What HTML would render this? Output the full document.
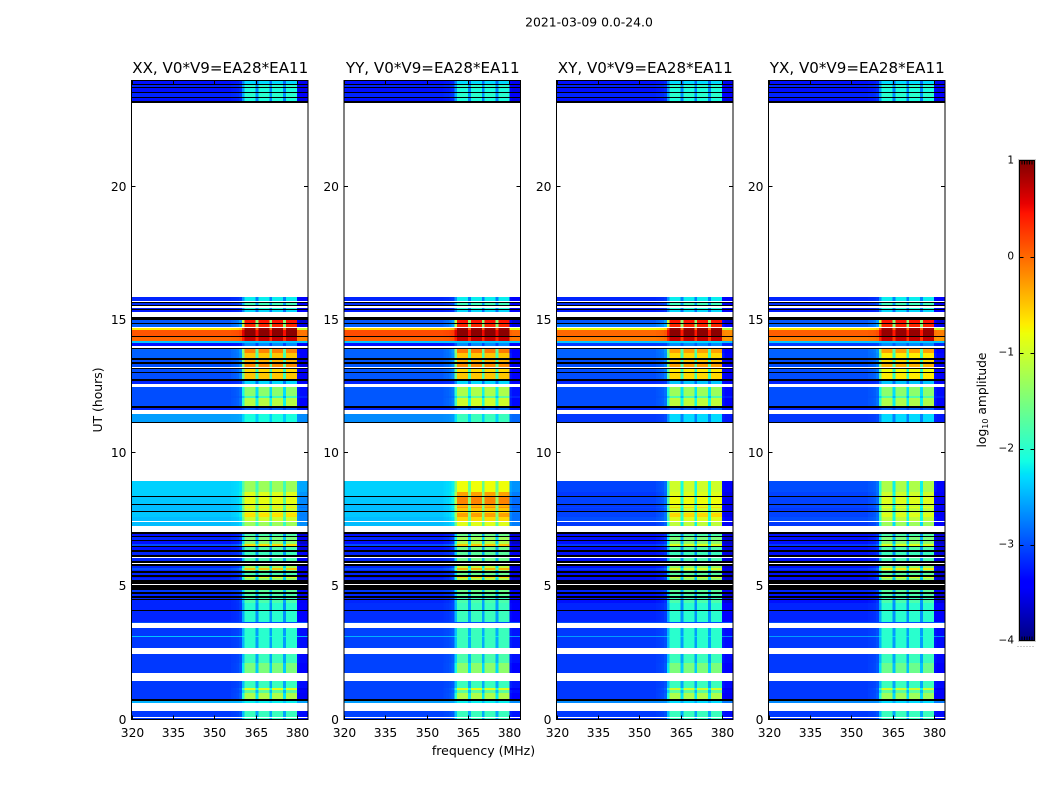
<!DOCTYPE html>
<html lang="en">
<head>
<meta charset="utf-8">
<title>2021-03-09 0.0-24.0</title>
<style>
html,body{margin:0;padding:0;background:#fff;width:1050px;height:800px;overflow:hidden}
svg{display:block;font-family:"DejaVu Sans","Liberation Sans",sans-serif;fill:#000}
</style>
</head>
<body>
<svg id="figure" width="1050" height="800" viewBox="0 0 1050 800" xmlns="http://www.w3.org/2000/svg">
  <rect x="0" y="0" width="1050" height="800" fill="#fff"/>
  <text x="589" y="26.5" font-size="12.4" text-anchor="middle">2021-03-09 0.0-24.0</text>
  <text transform="translate(102,400) rotate(-90)" font-size="12.4" text-anchor="middle">UT (hours)</text>
  <text x="483.5" y="755" font-size="12.5" text-anchor="middle">frequency (MHz)</text>
  <text transform="translate(986,400) rotate(-90)" font-size="12.3" text-anchor="middle">log<tspan font-size="8" dy="2">10</tspan><tspan dy="-2"> amplitude</tspan></text>
  <g id="panels"></g>
  <g id="colorbar"></g>
</svg>
<script>
const W = null;
const K = -9;

const panelTitles = ["XX, V0*V9=EA28*EA11", "YY, V0*V9=EA28*EA11", "XY, V0*V9=EA28*EA11", "YX, V0*V9=EA28*EA11"];
const freqTicks = [320, 335, 350, 365, 380];
const hourTicks = [0, 5, 10, 15, 20];
const colorbarTicks = [1, 0, -1, -2, -3, -4];

/* frequency channels: 1 MHz each, starting at 320 MHz */
const channelResponse = [
  0,0,0,0,0,0,0,0,0,0,
  0,0,0,0,0,0,0,0,0,0,
  0,0,0,0,0,0,0,0,0,0,
  0,0,0,0,0,0,.02,.03,.05,.1,
  .55,1,1,1,1,.45,1,1,1,1,
  .45,1,1,1,1,.45,1,1,1,1,
  -.15,-.2,-.2,-.2
];

/* upper edge (UT hours) of each time row */
const rowEdges = [
  .06,.09,.32,.62,.69,.77,1.00,1.11,1.18,1.45,
  1.75,2.12,2.46,2.69,3.08,3.12,3.44,3.61,3.65,3.68,
  4.09,4.13,4.36,4.39,4.47,4.51,4.58,4.64,4.73,4.77,
  4.86,5.05,5.09,5.24,5.31,5.35,5.43,5.50,5.58,5.62,
  5.69,5.77,5.84,5.88,5.95,6.07,6.10,6.18,6.29,6.37,
  6.48,6.52,6.59,6.70,6.74,6.85,6.89,6.97,7.04,7.27,
  7.40,7.44,7.59,7.62,7.76,7.79,7.83,7.94,7.98,8.08,
  8.11,8.38,8.41,8.53,8.56,8.96,11.15,11.19,11.47,11.62,
  11.70,11.77,12.08,12.15,12.49,12.60,12.71,12.79,13.02,13.06,
  13.16,13.20,13.24,13.37,13.41,13.50,13.58,13.77,13.92,13.95,
  14.03,14.14,14.22,14.37,14.40,14.63,14.72,14.76,14.84,14.89,
  14.99,15.12,15.31,15.38,15.42,15.47,15.52,15.57,15.64,15.68,
  15.72,15.87,23.15,23.23,23.34,23.38,23.53,23.57,23.72,23.76,
  23.83,23.87,24
];

/* log10 amplitude per row: outside the receiver band / inside it */
const xxOut = [
  -3.1,W,-3.1,W,-2.5,K,-3.1,-3.1,-3.1,-3.1,
  W,-3.1,-3.1,W,-3.1,-2.4,-3.1,W,-3,W,
  -3.2,K,-3.2,W,-3.2,K,-3.2,K,-3.2,K,
  -3.1,K,W,K,-3.2,-3.3,K,-3.2,K,-3.2,
  -3,-3.2,K,W,K,-3.2,W,K,-3.2,K,
  -3.3,K,-3,-3.3,K,-3.2,K,-3.3,K,W,
  -2.45,W,-2.45,W,-2.4,-2.4,K,-2.45,-2.45,-2.45,
  K,-2.4,K,-2.35,W,-2.35,W,K,-2.6,W,
  -3.2,K,-3,-3,-3,W,-3.2,K,-3,K,
  -3,K,W,-3,K,-3,K,-2.9,-2.9,K,
  W,-3.3,-2.4,0,K,.1,-.7,W,-2.9,K,
  -2.95,K,W,-3.25,K,-3.25,W,K,-3.15,K,
  W,-3.2,W,K,-3.3,K,-3.2,K,-3.3,K,
  -3.2,K,-3.3
];
const xxIn = [
  -1.9,W,-1.9,W,-2.2,K,-1.2,-1.7,-.9,-1.9,
  W,-1.5,-1.9,W,-2,-2,-2,W,-3,W,
  -2,K,-2,W,-1.8,K,-1.9,K,-1.8,K,
  -1.7,K,W,K,-1.4,-.9,K,-1.8,K,-1.6,
  -.5,-1.3,K,W,K,-1.8,W,K,-1.9,K,
  -1.8,K,-.6,-1.4,K,-1.5,K,-1.8,K,W,
  -1.3,W,-1,W,-.65,-.9,K,-1,-.7,-1,
  K,-.85,K,-.9,W,-1.3,W,K,-2.1,W,
  -2.9,K,-1.15,-1.9,-1.4,W,-2.3,K,-.5,K,
  -.6,K,W,-.2,K,-.4,K,-.5,-.15,K,
  W,-2.7,-2.4,.7,K,.95,.9,W,.35,K,
  .45,K,W,-2.3,K,-2.1,W,K,-1.9,K,
  W,-2.2,W,K,-2.1,K,-2,K,-2.1,K,
  -2,K,-2.3
];
const yyOut = [
  -3.1,W,-3.05,W,-2.6,K,-3.05,-3.05,-3.05,-3.05,
  W,-3.05,-3.05,W,-3.05,-2.5,-3.05,W,-3,W,
  -3.15,K,-3.15,W,-3.2,K,-3.2,K,-3.2,K,
  -3.1,K,W,K,-3.2,-3.3,K,-3.2,K,-3.2,
  -3,-3.2,K,W,K,-3.2,W,K,-3.2,K,
  -3.3,K,-3,-3.3,K,-3.2,K,-3.3,K,W,
  -2.45,W,-2.45,W,-2.4,-2.4,K,-2.45,-2.45,-2.45,
  K,-2.4,K,-2.35,W,-2.35,W,K,-2.7,W,
  -3.2,K,-2.95,-2.95,-2.95,W,-3.2,K,-2.95,K,
  -2.95,K,W,-2.95,K,-2.95,K,-2.9,-2.9,K,
  W,-3.3,-2.4,.05,K,.15,-.6,W,-2.9,K,
  -2.95,K,W,-3.25,K,-3.25,W,K,-3.15,K,
  W,-3.2,W,K,-3.3,K,-3.2,K,-3.3,K,
  -3.2,K,-3.3
];
const yyIn = [
  -1.9,W,-1.9,W,-2.2,K,-1.2,-1.7,-.9,-1.9,
  W,-1.4,-1.8,W,-1.9,-1.9,-1.9,W,-3,W,
  -1.9,K,-1.9,W,-1.8,K,-1.9,K,-1.7,K,
  -1.6,K,W,K,-1.2,-.6,K,-1.6,K,-1.4,
  -.4,-1.1,K,W,K,-1.6,W,K,-1.7,K,
  -1.6,K,-.5,-1.2,K,-1.3,K,-1.6,K,W,
  -.9,W,-.6,W,-.3,-.6,K,-.5,-.2,-.4,
  K,-.15,K,-.3,W,-.8,W,K,-1.9,W,
  -2.8,K,-1,-1.7,-1.2,W,-2.3,K,-.5,K,
  -.6,K,W,-.2,K,-.4,K,-.5,-.1,K,
  W,-2.7,-2.4,.7,K,.95,.9,W,.35,K,
  .45,K,W,-2.3,K,-2.1,W,K,-1.9,K,
  W,-2.2,W,K,-2.1,K,-2,K,-2.1,K,
  -2,K,-2.3
];
const xyOut = [
  -3.15,W,-3.1,W,-2.7,K,-3.1,-3.1,-3.1,-3.1,
  W,-3.1,-3.1,W,-3.1,-2.6,-3.1,W,-3,W,
  -3.2,K,-3.2,W,-3.3,K,-3.3,K,-3.3,K,
  -3.2,K,W,K,-3.3,-3.3,K,-3.3,K,-3.3,
  -3.1,-3.3,K,W,K,-3.3,W,K,-3.3,K,
  -3.3,K,-3.1,-3.3,K,-3.3,K,-3.3,K,W,
  -3.1,W,-3,W,-3.05,-3.05,K,-3.1,-3.05,-3.1,
  K,-3.05,K,-3.1,W,-3.05,W,K,-3.1,W,
  -3.2,K,-3,-3,-3,W,-3.2,K,-3,K,
  -3,K,W,-3,K,-3,K,-2.9,-2.9,K,
  W,-3.1,-2.4,-.1,K,0,-.8,W,-2.8,K,
  -2.95,K,W,-3.25,K,-3.25,W,K,-3.15,K,
  W,-3.2,W,K,-3.3,K,-3.2,K,-3.3,K,
  -3.2,K,-3.3
];
const xyIn = [
  -1.9,W,-1.9,W,-2.3,K,-1.2,-1.7,-1,-1.9,
  W,-1.5,-1.9,W,-2,-2,-2,W,-3,W,
  -2,K,-2,W,-1.8,K,-1.9,K,-1.8,K,
  -1.7,K,W,K,-1.4,-1,K,-1.7,K,-1.5,
  -.9,-1.4,K,W,K,-1.8,W,K,-1.9,K,
  -1.8,K,-.9,-1.4,K,-1.5,K,-1.8,K,W,
  -1.1,W,-.9,W,-.6,-1,K,-1,-.6,-.9,
  K,-.8,K,-.9,W,-1.0,W,K,-2.3,W,
  -2.9,K,-1.1,-1.8,-1.3,W,-2.4,K,-.6,K,
  -.7,K,W,-.3,K,-.5,K,-.6,-.3,K,
  W,-2.7,-2.3,.7,K,.95,.9,W,.35,K,
  .45,K,W,-2.3,K,-2.1,W,K,-1.9,K,
  W,-2.2,W,K,-2.1,K,-2,K,-2.1,K,
  -2,K,-2.3
];
const yxOut = [
  -3.15,W,-3.1,W,-2.7,K,-3.1,-3.1,-3.1,-3.1,
  W,-3.1,-3.1,W,-3.1,-2.6,-3.1,W,-3,W,
  -3.2,K,-3.2,W,-3.3,K,-3.3,K,-3.3,K,
  -3.2,K,W,K,-3.3,-3.3,K,-3.3,K,-3.3,
  -3.1,-3.3,K,W,K,-3.3,W,K,-3.3,K,
  -3.3,K,-3.1,-3.3,K,-3.3,K,-3.3,K,W,
  -3.1,W,-3,W,-3.05,-3.05,K,-3.1,-3.05,-3.05,
  K,-3.05,K,-3.05,W,-3,W,K,-3.1,W,
  -3.2,K,-3,-3,-3,W,-3.2,K,-3,K,
  -3,K,W,-3,K,-3,K,-2.9,-2.9,K,
  W,-3.1,-2.4,-.1,K,.05,-.7,W,-2.9,K,
  -2.95,K,W,-3.25,K,-3.25,W,K,-3.15,K,
  W,-3.2,W,K,-3.3,K,-3.2,K,-3.3,K,
  -3.2,K,-3.3
];
const yxIn = [
  -1.9,W,-1.9,W,-2.3,K,-1.3,-1.7,-1,-1.9,
  W,-1.6,-1.9,W,-2,-2,-2,W,-3,W,
  -2,K,-2,W,-1.8,K,-1.9,K,-1.8,K,
  -1.7,K,W,K,-1.4,-.9,K,-1.7,K,-1.5,
  -.7,-1.4,K,W,K,-1.8,W,K,-1.9,K,
  -1.8,K,-.9,-1.4,K,-1.5,K,-1.8,K,W,
  -1.3,W,-1.1,W,-.9,-1.1,K,-1.1,-.8,-1.1,
  K,-.9,K,-1,W,-1.2,W,K,-2.3,W,
  -2.9,K,-1.2,-1.8,-1.4,W,-2.4,K,-.7,K,
  -.8,K,W,-.4,K,-.6,K,-.7,-.3,K,
  W,-2.7,-2.4,.7,K,.9,.85,W,.35,K,
  .45,K,W,-2.3,K,-2.1,W,K,-1.9,K,
  W,-2.2,W,K,-2.1,K,-2,K,-2.1,K,
  -2,K,-2.3
];

const panelOut = [xxOut, yyOut, xyOut, yxOut];
const panelIn = [xxIn, yyIn, xyIn, yxIn];

const SVGNS = "http://www.w3.org/2000/svg";
const plotTop = 80.5, plotBottom = 719.5, plotWidth = 176.5;
const panelLefts = [131.5, 344, 556.5, 768.5];
const hourMax = 24, freqMin = 320, freqSpan = 64;
const barLeft = 1019.5, barRight = 1034.5, barTop = 160.5, barBottom = 640.5;
const levelMin = -4, levelMax = 1;

function yScale(hour) { return plotBottom - (hour / hourMax) * (plotBottom - plotTop); }
function xScale(mhz, left) { return left + ((mhz - freqMin) / freqSpan) * plotWidth; }
function levelY(v) { return barBottom - ((v - levelMin) / (levelMax - levelMin)) * (barBottom - barTop); }

function ramp(t, a, b) { return Math.max(0, Math.min(1, (t - a) / (b - a))); }
function jet(t) {
  const r = t < .89 ? ramp(t, .35, .66) : 1 - .5 * ramp(t, .89, 1);
  const g = t < .64 ? ramp(t, .125, .375) : 1 - ramp(t, .64, .91);
  const b = t < .34 ? .5 + .5 * ramp(t, 0, .11) : 1 - ramp(t, .34, .65);
  return "rgb(" + Math.round(r * 255) + "," + Math.round(g * 255) + "," + Math.round(b * 255) + ")";
}
function levelColor(v) {
  if (v <= K) return "#000";
  return jet(Math.max(0, Math.min(1, (v - levelMin) / (levelMax - levelMin))));
}
function make(tag, attrs, parent) {
  const el = document.createElementNS(SVGNS, tag);
  for (const k in attrs) el.setAttribute(k, attrs[k]);
  parent.appendChild(el);
  return el;
}

const panelsRoot = document.getElementById("panels");
panelTitles.forEach(function (title, p) {
  const left = panelLefts[p];
  const right = left + plotWidth;
  const g = make("g", {}, panelsRoot);
  
  

  const cells = make("g", { "shape-rendering": "crispEdges" }, g);
  
  

  rowEdges.forEach(function (top, r) {
    const bottom = r === 0 ? 0 : rowEdges[r - 1];
    const outLevel = panelOut[p][r];
    const inLevel = panelIn[p][r];
    if (outLevel === W) return;
    const y0 = Math.round(yScale(top));
    const y1 = Math.max(y0 + 1, Math.round(yScale(bottom)));
    let start = 0;
    for (let c = 1; c <= channelResponse.length; c++) {
      const isBlack = outLevel === K;
      const v0 = isBlack ? K : outLevel + (inLevel - outLevel) * channelResponse[start];
      const v1 = c < channelResponse.length ? (isBlack ? K : outLevel + (inLevel - outLevel) * channelResponse[c]) : null;
      if (v1 === v0) continue;
      const x0 = xScale(freqMin + start, left);
      const x1 = xScale(freqMin + c, left);
      const cell = make("rect", { x: x0.toFixed(2), y: y0, width: (x1 - x0).toFixed(2), height: y1 - y0, fill: levelColor(v0) }, cells);
      
      
      start = c;
    }
  });

  const frame = make("rect", { x: left, y: plotTop, width: plotWidth, height: plotBottom - plotTop, fill: "none", stroke: "#000", "stroke-width": 1 }, g);
  
  

  const titleEl = make("text", { x: left + plotWidth / 2 + .5, y: 73, "font-size": 15.1, "text-anchor": "middle" }, g);
  
  
  titleEl.textContent = title;

  freqTicks.forEach(function (f) {
    const x = Math.round(xScale(f, left)) + .5;
    const lo = make("line", { x1: x, x2: x, y1: plotBottom, y2: plotBottom - 4, stroke: "#000" }, g);
    
    
    const hi = make("line", { x1: x, x2: x, y1: plotTop, y2: plotTop + 4, stroke: "#000" }, g);
    
    
    const label = make("text", { x: x, y: 737, "font-size": 12.3, "text-anchor": "middle" }, g);
    
    
    label.textContent = f;
  });

  hourTicks.forEach(function (h) {
    const y = Math.round(yScale(h)) - .5;
    const lo = make("line", { x1: left, x2: left + 4, y1: y, y2: y, stroke: "#000" }, g);
    
    
    const hi = make("line", { x1: right, x2: right - 4, y1: y, y2: y, stroke: "#000" }, g);
    
    
    const label = make("text", { x: left - 5, y: y + 4.5, "font-size": 12.3, "text-anchor": "end" }, g);
    
    
    label.textContent = h;
  });
});

const barRoot = document.getElementById("colorbar");
const halo = make("rect", { x: barLeft - 1, y: barTop - 1, width: barRight - barLeft + 2, height: barBottom - barTop + 2, fill: "none", stroke: "#ccc" }, barRoot);


for (let y = barTop; y < barBottom; y += 2) {
  const t = (barBottom - y - 1) / (barBottom - barTop);
  const swatch = make("rect", { x: barLeft, y: y, width: barRight - barLeft, height: 2.2, fill: jet(t), "shape-rendering": "crispEdges" }, barRoot);
  
  
}
const barFrame = make("rect", { x: barLeft, y: barTop, width: barRight - barLeft, height: barBottom - barTop, fill: "none", stroke: "#000" }, barRoot);



colorbarTicks.forEach(function (v) {
  const y = Math.round(levelY(v)) + .5;
  if (v > levelMin && v < levelMax) {
    const a = make("line", { x1: barLeft, x2: barLeft + 4, y1: y, y2: y, stroke: "#000" }, barRoot);
    
    
    const b = make("line", { x1: barRight, x2: barRight - 4, y1: y, y2: y, stroke: "#000" }, barRoot);
    
    
  }
  const label = make("text", { x: 1014, y: y + 2, "font-size": 10.5, "text-anchor": "end" }, barRoot);
  
  
  label.textContent = String(v).replace("-", "\u2212");
});

for (let x = barLeft + 2.5; x < barRight; x += 2.5) {
  const up = make("line", { x1: x, x2: x, y1: barBottom, y2: barBottom - 4, stroke: "#000" }, barRoot);
  
  
  const down = make("line", { x1: x, x2: x, y1: barTop, y2: barTop + 4, stroke: "#000" }, barRoot);
  
  
}
for (let x = barLeft - 2; x < barRight; x += 3) {
  const dot = make("rect", { x: x, y: 646, width: 1, height: 1, fill: "#999" }, barRoot);
  
  
}
</script>
</body>
</html>
